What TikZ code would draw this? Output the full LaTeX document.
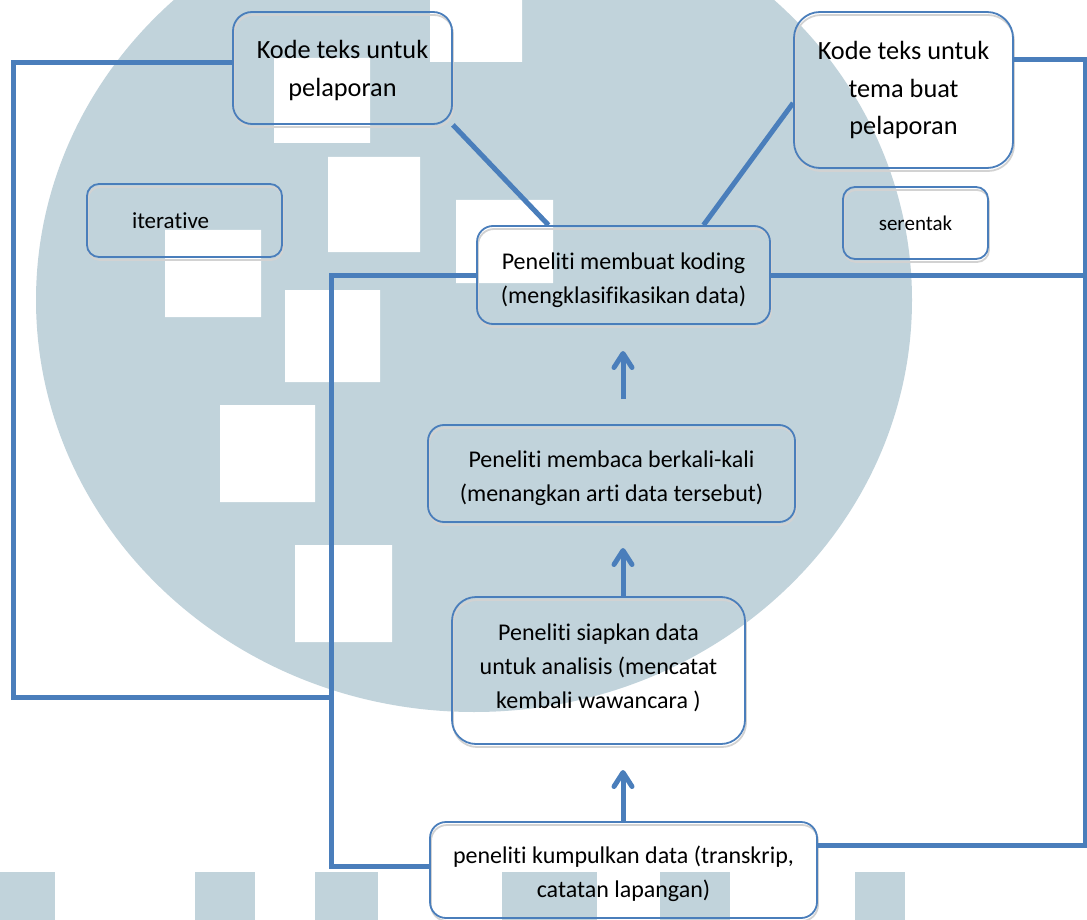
\documentclass[tikz,border=0pt]{standalone}
\usepackage{fontspec}
\setmainfont{Carlito}[Ligatures=NoCommon]
\usetikzlibrary{arrows.meta}
\definecolor{lineblue}{RGB}{74,126,187}
\definecolor{wmgray}{RGB}{193,211,219}

\begin{document}
\begin{tikzpicture}[x=1pt,y=-1pt,
	box/.style={draw=lineblue,line width=1.8pt,align=center,inner sep=0pt,
		preaction={draw=gray!35,line width=1.8pt,transform canvas={xshift=1pt,yshift=-3pt}}},
	link/.style={draw=lineblue,line width=5pt},
	flow/.style={draw=lineblue,line width=5pt,-{Straight Barb[length=14pt,width=18pt,round]}},
	big/.style={font=\fontsize{26.3}{37.5}\selectfont},
	mid/.style={font=\fontsize{24}{34}\selectfont}]
		
		\useasboundingbox (0,0) rectangle (1087,920);
		
		% watermark
		\begin{scope}
		\clip (0,0) rectangle (1087,920);
		\fill[wmgray] (474,300) ellipse [x radius=438pt,y radius=412pt];
		\fill[white] (430,0) rectangle (522,62) (274,58) rectangle (370,143)
			(328,157) rectangle (420,252) (165,230) rectangle (261,317)
			(456,200) rectangle (553,283) (285,290) rectangle (380,382)
			(220,405) rectangle (315,502) (295,545) rectangle (392,642);
		\foreach \l/\r in {0/55,195/255,315/378,502/597,660/730,855/905}
			\fill[wmgray] (\l,872) rectangle (\r,920);
		\end{scope}
		
		\node[box,big,minimum width=219pt,minimum height=112pt,rounded corners=19pt,text height=60.5pt] (kodeL) at (342.5,68) {Kode teks untuk\\pelaporan};
		\node[box,big,minimum width=219pt,minimum height=156pt,rounded corners=26pt] (kodeR) at (903.5,90) {Kode teks untuk\\tema buat\\pelaporan};
		\node[box,font=\fontsize{23}{28}\selectfont,minimum height=73pt,text width=105pt,inner xsep=45pt,align=left,rounded corners=12pt] (iter) at (184.5,220.5) {iterative};
		\node[box,font=\fontsize{21}{26}\selectfont,minimum width=145pt,minimum height=72pt,rounded corners=12pt] (seren) at (915.5,223) {serentak};
		
		\node[box,mid,minimum width=293pt,minimum height=98pt,rounded corners=16pt,text height=62pt] (koding) at (623.5,275) {Peneliti membuat koding\\(mengklasifikasikan data)};
		\node[box,mid,minimum width=367pt,minimum height=97pt,rounded corners=16pt,text height=61pt] (baca) at (611.5,473.5) {Peneliti membaca berkali-kali\\(menangkan arti data tersebut)};
		\node[box,mid,minimum width=293pt,minimum height=147pt,rounded corners=24pt,text height=79pt] (siap) at (598.5,670.5) {Peneliti siapkan data\\untuk analisis (mencatat\\kembali wawancara )};
		\node[box,mid,minimum width=387pt,minimum height=96pt,rounded corners=16pt,text height=60pt] (kumpul) at (623.5,870) {peneliti kumpulkan data (transkrip,\\catatan lapangan)};
		
		\coordinate (lt) at (13,63);
		\coordinate (lb) at (13,697);
		\coordinate (lj) at (331,697);
		\coordinate (it) at (331,275);
		\coordinate (ib) at (331,866);
		\coordinate (rt) at (1085,60);
		\coordinate (rm) at (1085,273);
		\coordinate (rb) at (1085,845);
		\coordinate (a1s) at (623,399);
		\coordinate (a1e) at (623,351);
		\coordinate (a2e) at (623,548);
		\coordinate (a3e) at (623,770);
		
		\draw[link] (kodeL.west |- lt) -- (lt) -- (lb) -- (lj);
		\draw[link] (koding.west) -- (it) -- (ib) -- (kumpul.west |- ib);
		\draw[link] (kodeR.east |- rt) -- (rt) -- (rb) -- (kumpul.east |- rb);
		\draw[link] (koding.east) -- (koding.east -| rm);
		\draw[link] (kodeL.south east) -- ([xshift=-75pt]koding.north);
		\draw[link] ([yshift=-13pt]kodeR.west) -- ([xshift=80pt]koding.north);
		
		\draw[flow] (a1s) -- (a1e);
		\draw[flow] (siap.north -| a2e) -- (a2e);
		\draw[flow] (kumpul.north -| a3e) -- (a3e);
		
	\end{tikzpicture}
\end{document}
